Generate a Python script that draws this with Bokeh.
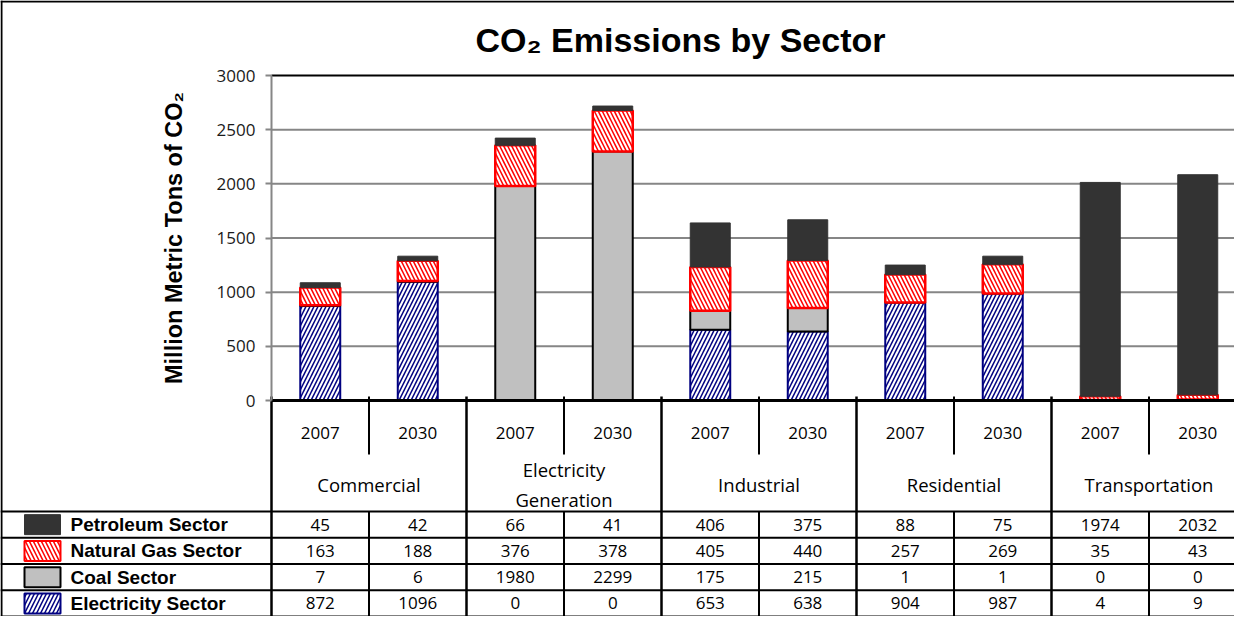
import numpy as np
from bokeh.plotting import figure
from bokeh.models import Range1d, FixedTicker, ColumnDataSource
from bokeh.core.properties import value
from bokeh.embed import file_html
from bokeh.resources import INLINE

# ---------------- data ----------------
sectors = ["Commercial", "Electricity Generation", "Industrial", "Residential", "Transportation"]
sector_labels = ["Commercial", "Electricity\nGeneration", "Industrial", "Residential", "Transportation"]
years = ["2007", "2030"]
series_names = ["Petroleum Sector", "Natural Gas Sector", "Coal Sector", "Electricity Sector"]
petroleum = [45, 42, 66, 41, 406, 375, 88, 75, 1974, 2032]
natural_gas = [163, 188, 376, 378, 405, 440, 257, 269, 35, 43]
coal = [7, 6, 1980, 2299, 175, 215, 1, 1, 0, 0]
electricity = [872, 1096, 0, 0, 653, 638, 904, 987, 4, 9]
y_ticks = [0, 500, 1000, 1500, 2000, 2500, 3000]
title_text = "CO\u2082 Emissions by Sector"
y_label = "Million Metric Tons of CO\u2082"

# ---------------- layout ----------------
W, H = 1234, 616
PX0, PY0 = 8, 8
PLOT_LEFT = 279.0
SLOT = 97.5
AXIS_Y = 408.0
TOP_Y = 83.0

n_groups = len(sectors)
n_years = len(years)
n_slots = n_groups * n_years
k = (AXIS_Y - TOP_Y) / y_ticks[-1]

x_range = Range1d((PX0 - PLOT_LEFT) / SLOT, (PX0 + W - PLOT_LEFT) / SLOT)
y_range = Range1d(-(PY0 + H - AXIS_Y) / k, (AXIS_Y - PY0) / k)

p = figure(width=W, height=H, x_range=x_range, y_range=y_range,
           output_backend="svg", toolbar_location=None,
           x_axis_location=None, y_axis_location="left",
           min_border=0, outline_line_color=None)
p.extra_x_ranges = {"px": Range1d(PX0, PX0 + W)}
p.extra_y_ranges = {"px": Range1d(PY0 + H, PY0)}
p.grid.visible = False
p.background_fill_color = "white"
p.border_fill_color = "white"

SANS = value("Open Sans")
ARIAL = value("Liberation Sans")

# y axis at x = 0
ya = p.yaxis[0]
ya.fixed_location = 0
ya.bounds = (y_ticks[0], y_ticks[-1])
ya.ticker = FixedTicker(ticks=y_ticks)
ya.axis_line_color = "#868686"
ya.axis_line_width = 2
ya.major_tick_line_color = "#868686"
ya.major_tick_line_width = 2
ya.major_tick_out = 6
ya.major_tick_in = 0
ya.minor_tick_line_color = None
ya.major_label_text_font = "Open Sans"
ya.major_label_text_font_size = "17px"
ya.major_label_text_color = "#1a1a1a"
ya.major_label_standoff = 10

# gridlines
grid_vals = y_ticks[1:-1]
p.segment(x0=[0] * len(grid_vals), x1=[n_slots] * len(grid_vals), y0=grid_vals, y1=grid_vals,
          line_color="#868686", line_width=2)

# bars
x_centers = np.arange(n_slots) + 0.5
src = ColumnDataSource(dict(x=x_centers, electricity=electricity, coal=coal,
                            natural_gas=natural_gas, petroleum=petroleum))
styles = {
    "petroleum": dict(fill_color="#333333", line_color="#333333", line_width=1,
                      hatch_pattern=None, hatch_color=None),
    "natural_gas": dict(fill_color="white", line_color="#FF0000", line_width=2.5,
                        hatch_pattern="left_diagonal_line", hatch_color="#FF0000"),
    "coal": dict(fill_color="#C0C0C0", line_color="#000000", line_width=2,
                 hatch_pattern=None, hatch_color=None),
    "electricity": dict(fill_color="white", line_color="#000080", line_width=2,
                        hatch_pattern="right_diagonal_line", hatch_color="#000080"),
}
stack = ["electricity", "coal", "natural_gas", "petroleum"]
p.vbar_stack(stack, x="x", width=0.41, source=src,
             fill_color=[styles[s]["fill_color"] for s in stack],
             line_color=[styles[s]["line_color"] for s in stack],
             line_width=[styles[s]["line_width"] for s in stack],
             hatch_pattern=[styles[s]["hatch_pattern"] for s in stack],
             hatch_color=[styles[s]["hatch_color"] for s in stack],
             hatch_scale=8, hatch_weight=1.5)

# plot border top and x axis line
p.segment(x0=[0], x1=[n_slots], y0=[y_ticks[-1]], y1=[y_ticks[-1]], line_color="black", line_width=2)
p.segment(x0=[0], x1=[n_slots], y0=[0], y1=[0], line_color="black", line_width=3)

# ---------------- table below ----------------
ROW_TOP = 519.0
ROW_H = 26.25
BOTTOM = PY0 + H + 20
row_lines = [ROW_TOP + i * ROW_H for i in range(len(series_names) + 1)]
row_centers = [ROW_TOP + (i + 0.5) * ROW_H for i in range(len(series_names))]

group_edges = [g * n_years for g in range(n_groups + 1)]
year_edges = [g * n_years + j for g in range(n_groups) for j in range(1, n_years)]

p.segment(x0=group_edges, x1=group_edges, y0=[404] * len(group_edges), y1=[BOTTOM] * len(group_edges),
          y_range_name="px", line_color="black", line_width=2.5)
p.segment(x0=year_edges, x1=year_edges, y0=[404] * len(year_edges), y1=[462] * len(year_edges),
          y_range_name="px", line_color="black", line_width=2)
p.segment(x0=year_edges, x1=year_edges, y0=[ROW_TOP] * len(year_edges), y1=[BOTTOM] * len(year_edges),
          y_range_name="px", line_color="black", line_width=2)
p.segment(x0=[PX0] * len(row_lines), x1=[PX0 + W] * len(row_lines), y0=row_lines, y1=row_lines,
          x_range_name="px", y_range_name="px", line_color="black", line_width=2)

# outer chart border (left and top)
p.segment(x0=[PX0 + 1, PX0], x1=[PX0 + 1, PX0 + W], y0=[PY0, PY0 + 1], y1=[BOTTOM, PY0 + 1],
          x_range_name="px", y_range_name="px", line_color="black", line_width=2)

# year labels
p.text(x=x_centers, y=[440] * n_slots, text=[years[i % n_years] for i in range(n_slots)],
       y_range_name="px", text_font=SANS, text_font_size="17px", text_color="black",
       text_align="center", text_baseline="middle")

# sector labels
group_centers = [g * n_years + n_years / 2 for g in range(n_groups)]
p.text(x=group_centers, y=[492] * n_groups, text=sector_labels,
       y_range_name="px", text_font=SANS, text_font_size="18.5px", text_color="black",
       text_align="center", text_baseline="middle", text_line_height=1.2)

# table values
series_values = [petroleum, natural_gas, coal, electricity]
series_keys = ["petroleum", "natural_gas", "coal", "electricity"]
for r, vals in enumerate(series_values):
    p.text(x=x_centers, y=[row_centers[r]] * n_slots, text=[str(v) for v in vals],
           y_range_name="px", text_font=SANS, text_font_size="17px", text_color="black",
           text_align="center", text_baseline="middle")

# legend keys and names
for r, key in enumerate(series_keys):
    st = styles[key]
    p.rect(x=[50], y=[row_centers[r]], width=[36], height=[20],
           x_range_name="px", y_range_name="px",
           fill_color=st["fill_color"], line_color=st["line_color"],
           line_width=min(st["line_width"], 2),
           hatch_pattern=st["hatch_pattern"], hatch_color=st["hatch_color"],
           hatch_scale=8, hatch_weight=1.5)
p.text(x=[78] * len(series_names), y=row_centers, text=series_names,
       x_range_name="px", y_range_name="px", text_font=ARIAL, text_font_style="bold",
       text_font_size="19px", text_color="black", text_align="left", text_baseline="middle")

# title
p.text(x=[688], y=[47], text=[title_text], x_range_name="px", y_range_name="px",
       text_font=ARIAL, text_font_style="bold", text_font_size="34px", text_color="black",
       text_align="center", text_baseline="alphabetic")

# y axis label
p.text(x=[181], y=[(y_ticks[0] + y_ticks[-1]) / 2], text=[y_label], x_range_name="px",
       text_font=ARIAL, text_font_style="bold", text_font_size="23.5px", text_color="black",
       text_align="center", text_baseline="middle", angle=np.pi / 2)

open("out.html", "w").write(file_html(p, INLINE))
